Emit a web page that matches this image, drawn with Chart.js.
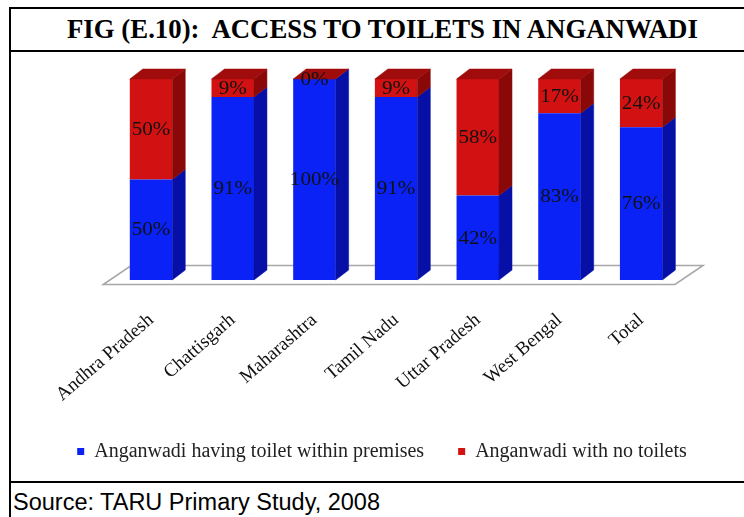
<!DOCTYPE html>
<html>
<head>
<meta charset="utf-8">
<script src="https://cdn.jsdelivr.net/npm/chart.js@4.4.1/dist/chart.umd.min.js"></script>
<style>
html, body { margin: 0; padding: 0; background: #fff; width: 744px; height: 517px; overflow: hidden; }
.line { position: absolute; background: #000; }
#title { position: absolute; left: 67px; top: 16px; font: bold 26.8px/26px "Liberation Serif", "Times New Roman", serif; color: #000; white-space: nowrap; }
#source { position: absolute; left: 13px; top: 490px; font: 23.5px/24px "Liberation Sans", Arial, sans-serif; color: #000; white-space: nowrap; }
#wrap { position: absolute; left: 0; top: 0; width: 744px; height: 517px; z-index: 1; }
</style>
</head>
<body>

<div class="line" style="left:9px;top:7px;width:735px;height:2px"></div>
<div class="line" style="left:9px;top:7px;width:2px;height:510px"></div>
<div class="line" style="left:9px;top:50px;width:735px;height:2px"></div>
<div class="line" style="left:9px;top:481px;width:735px;height:2px"></div>

<div id="title">FIG (E.10):&nbsp; ACCESS TO TOILETS IN ANGANWADI</div>
<div id="source">Source: TARU Primary Study, 2008</div>

<div id="wrap"><canvas id="toiletChart"></canvas></div>

<script>
// survey results, percent of anganwadi centres
const states = ["Andhra Pradesh", "Chattisgarh", "Maharashtra", "Tamil Nadu", "Uttar Pradesh", "West Bengal", "Total"];
const withToilet = [50, 91, 100, 91, 42, 83, 76];
const noToilet = [50, 9, 0, 9, 58, 17, 24];

const frontColors = ["#0a22f6", "#d21212"];
const sideColors = ["#0610a6", "#8a0808"];
const topColors = ["#0818c0", "#a00b0b"];

const depthX = 13;
const depthY = 10;

// fake 3D: floor under the bars, side and top faces, value labels
const bar3d = {
  id: "bar3d",
  beforeDatasetsDraw(chart) {
    const ctx = chart.ctx;
    const a = chart.chartArea;
    ctx.save();
    ctx.beginPath();
    ctx.moveTo(a.left - 7, a.bottom + 4.5);
    ctx.lineTo(a.right - 7, a.bottom + 4.5);
    ctx.lineTo(a.right + 21, a.bottom - 14.5);
    ctx.lineTo(a.left + 21, a.bottom - 14.5);
    ctx.closePath();
    ctx.fillStyle = "#fff";
    ctx.fill();
    ctx.strokeStyle = "#a8a8a8";
    ctx.lineWidth = 1.6;
    ctx.stroke();
    ctx.restore();
  },
  afterDatasetsDraw(chart) {
    const ctx = chart.ctx;
    const n = chart.data.datasets.length;
    ctx.save();

    chart.data.labels.forEach((lbl, i) => {
      for (let d = 0; d < n; d++) {
        const bar = chart.getDatasetMeta(d).data[i];
        const r = bar.x + bar.width / 2;
        const top = Math.min(bar.y, bar.base);
        const bot = Math.max(bar.y, bar.base);
        if (bot - top < 0.5) continue;
        ctx.fillStyle = sideColors[d];
        ctx.strokeStyle = sideColors[d];
        ctx.lineWidth = 0.5;
        ctx.beginPath();
        ctx.moveTo(r, top);
        ctx.lineTo(r + depthX, top - depthY);
        ctx.lineTo(r + depthX, bot - depthY);
        ctx.lineTo(r, bot);
        ctx.closePath();
        ctx.fill();
        ctx.stroke();
      }
      // lid takes the colour of the top series
      const bar = chart.getDatasetMeta(n - 1).data[i];
      const l = bar.x - bar.width / 2;
      const r = bar.x + bar.width / 2;
      const y = Math.min(bar.y, bar.base);
      ctx.fillStyle = topColors[n - 1];
      ctx.strokeStyle = topColors[n - 1];
      ctx.beginPath();
      ctx.moveTo(l, y);
      ctx.lineTo(r, y);
      ctx.lineTo(r + depthX, y - depthY);
      ctx.lineTo(l + depthX, y - depthY);
      ctx.closePath();
      ctx.fill();
      ctx.stroke();
    });

    ctx.fillStyle = "#111";
    ctx.font = "18px 'Liberation Serif', 'Times New Roman', serif";
    ctx.textAlign = "center";
    ctx.textBaseline = "middle";
    chart.data.datasets.forEach((ds, d) => {
      chart.getDatasetMeta(d).data.forEach((bar, i) => {
        const y = (bar.y + bar.base) / 2 + 1;
        ctx.save();
        ctx.translate(bar.x, y);
        ctx.scale(1.17, 1);
        ctx.fillText(ds.data[i] + "%", 0, 0);
        ctx.restore();
      });
    });
    ctx.restore();
  }
};

new Chart(document.getElementById("toiletChart"), {
  type: "bar",
  data: {
    labels: states,
    datasets: [
      {
        label: "Anganwadi having toilet within premises",
        data: withToilet,
        backgroundColor: frontColors[0]
      },
      {
        label: "Anganwadi with no toilets",
        data: noToilet,
        backgroundColor: frontColors[1]
      }
    ]
  },
  options: {
    responsive: true,
    maintainAspectRatio: false,
    animation: false,
    categoryPercentage: 1,
    barPercentage: 0.52,
    layout: {
      padding: { left: 30, right: 10, top: 79, bottom: 45.5 }
    },
    scales: {
      x: {
        stacked: true,
        grid: { display: false, drawTicks: false },
        border: { display: false },
        ticks: {
          color: "#111",
          padding: 29,
          minRotation: 41,
          maxRotation: 41,
          autoSkip: false,
          font: { family: "'Liberation Serif', 'Times New Roman', serif", size: 19 }
        },
        afterFit(scale) {
          scale.height = 127.5;
        }
      },
      y: {
        stacked: true,
        min: 0,
        max: 100,
        grid: { display: false },
        border: { display: false },
        ticks: { display: false },
        afterFit(scale) {
          scale.width = 80.2;
        }
      },
      // empty right-hand axis, only keeps room for the bar depth
      yRight: {
        position: "right",
        min: 0,
        max: 100,
        grid: { display: false },
        border: { display: false },
        ticks: { display: false },
        afterFit(scale) {
          scale.width = 52;
        }
      }
    },
    plugins: {
      legend: {
        position: "bottom",
        labels: {
          boxWidth: 7,
          boxHeight: 7,
          padding: 34,
          color: "#222",
          font: { family: "'Liberation Serif', 'Times New Roman', serif", size: 20 }
        }
      },
      tooltip: { enabled: false }
    }
  },
  plugins: [bar3d]
});
</script>
</body>
</html>
